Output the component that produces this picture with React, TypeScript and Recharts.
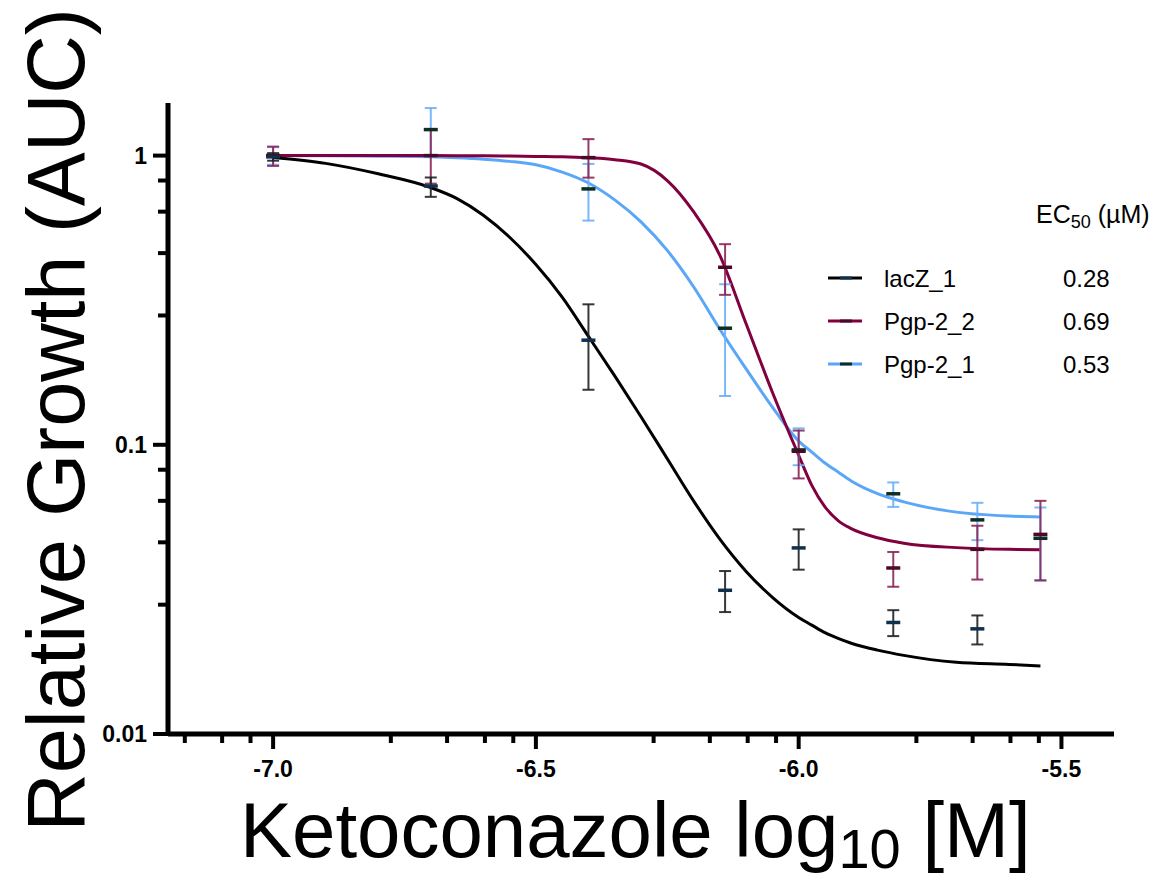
import React from 'react';
import { ComposedChart, Line, Scatter, ErrorBar, XAxis, YAxis, Label } from 'recharts';

// concentrations (log10 M) of the measured points
const DOSES = [-7.0, -6.7, -6.4, -6.14, -6.0, -5.82, -5.66, -5.54];

// lacZ_1 mean and error bar ends
const LACZ_MEAN = [0.99, 0.785, 0.23, 0.0314, 0.044, 0.0243, 0.0231, null];
const LACZ_LOW = [0.96, 0.72, 0.155, 0.0264, 0.037, 0.0218, 0.0204, null];
const LACZ_HIGH = [1.02, 0.84, 0.306, 0.0366, 0.051, 0.0268, 0.0257, null];

// Pgp-2_2
const PGP22_MEAN = [1.0, 1.0, 0.984, 0.411, 0.095, 0.0375, 0.0435, 0.049];
const PGP22_LOW = [0.921, 0.8, 0.839, 0.33, 0.0765, 0.0323, 0.0342, 0.034];
const PGP22_HIGH = [1.074, 1.23, 1.14, 0.494, 0.112, 0.0426, 0.0525, 0.064];

// Pgp-2_1
const PGP21_MEAN = [1.0, 1.23, 0.767, 0.253, 0.096, 0.0677, 0.055, 0.0475];
const PGP21_LOW = [0.93, 1.0, 0.596, 0.1475, 0.085, 0.061, 0.0468, 0.0339];
const PGP21_HIGH = [1.07, 1.46, 0.936, 0.359, 0.114, 0.0741, 0.063, 0.0607];

// fitted curves
const CURVE_X = [-7.0, -6.9, -6.8, -6.7, -6.65, -6.6, -6.55, -6.5, -6.45, -6.4, -6.35, -6.3, -6.25, -6.2, -6.15, -6.1, -6.05, -6.0, -5.975, -5.95, -5.925, -5.9, -5.85, -5.8, -5.7, -5.6, -5.54];
const LACZ_FIT = [0.985, 0.94, 0.865, 0.775, 0.71, 0.622, 0.522, 0.42, 0.324, 0.237, 0.173, 0.125, 0.0895, 0.064, 0.0472, 0.0365, 0.0297, 0.0253, 0.0238, 0.0224, 0.0214, 0.0206, 0.0195, 0.0187, 0.0177, 0.0174, 0.0172];
const PGP22_FIT = [1.0, 1.0, 1.0, 1.0, 0.999, 0.998, 0.996, 0.993, 0.99, 0.982, 0.968, 0.935, 0.82, 0.64, 0.452, 0.262, 0.152, 0.092, 0.0724, 0.061, 0.0547, 0.0513, 0.0477, 0.0457, 0.0441, 0.0435, 0.0434];
const PGP21_FIT = [1.0, 0.998, 0.995, 0.99, 0.983, 0.972, 0.955, 0.929, 0.877, 0.804, 0.703, 0.59, 0.47, 0.352, 0.251, 0.183, 0.135, 0.103, 0.0944, 0.0865, 0.0805, 0.075, 0.0678, 0.0635, 0.0585, 0.0567, 0.0563];

// axes
const X_MAJOR = [-7, -6.5, -6, -5.5];
const X_LABELS = ['-7.0', '-6.5', '-6.0', '-5.5'];
const X_MINOR = [-7.168, -7.097, -7.043, -6.776, -6.669, -6.597, -6.543, -6.276, -6.169, -6.097, -6.043, -5.776, -5.669, -5.597, -5.543];
const Y_MAJOR = [0.01, 0.1, 1];
const Y_LABELS = ['0.01', '0.1', '1'];
const Y_MINOR = [0.028, 0.046, 0.064, 0.082, 0.28, 0.46, 0.64, 0.82];

const NAMES = ['lacZ_1', 'Pgp-2_2', 'Pgp-2_1'];
const EC50 = ['0.28', '0.69', '0.53'];

const LINE_COLORS = ['#000000', '#800040', '#5ba7f7'];
const BAR_COLORS = ['#222222', '#8c2659', '#6cb0fb'];
const DASH_COLORS = ['#10304c', '#4a0a26', '#0f2e22'];

const FONT = '"Liberation Sans", Arial, sans-serif';

const toPoints = (mean: (number | null)[], low: (number | null)[], high: (number | null)[]) =>
  DOSES.map((x, i) => {
    const m = mean[i];
    if (m == null) return null;
    return { x, y: m, err: [m - (low[i] as number), (high[i] as number) - m] };
  }).filter(Boolean) as any[];

const toCurve = (fit: number[]) => CURVE_X.map((x, i) => ({ x, y: fit[i] }));

const points = [
  toPoints(LACZ_MEAN, LACZ_LOW, LACZ_HIGH),
  toPoints(PGP22_MEAN, PGP22_LOW, PGP22_HIGH),
  toPoints(PGP21_MEAN, PGP21_LOW, PGP21_HIGH),
];
const curves = [toCurve(LACZ_FIT), toCurve(PGP22_FIT), toCurve(PGP21_FIT)];

const XTick = (props: any) => {
  const { x, y, payload } = props;
  const idx = X_MAJOR.indexOf(payload.value);
  const major = idx >= 0;
  return (
    <g>
      <line x1={x} x2={x} y1={y} y2={y + (major ? 15 : 9)} stroke="#000" strokeWidth={4} />
      {major && (
        <text x={x} y={y + 43} textAnchor="middle" fontFamily={FONT} fontWeight="bold" fontSize={23} fill="#000">
          {X_LABELS[idx]}
        </text>
      )}
    </g>
  );
};

const YTick = (props: any) => {
  const { x, y, payload } = props;
  const idx = Y_MAJOR.indexOf(payload.value);
  const major = idx >= 0;
  return (
    <g>
      <line x1={x} x2={x - (major ? 15 : 10)} y1={y} y2={y} stroke="#000" strokeWidth={4} />
      {major && (
        <text x={x - 21} y={y + 8} textAnchor="end" fontFamily={FONT} fontWeight="bold" fontSize={23} fill="#000">
          {Y_LABELS[idx]}
        </text>
      )}
    </g>
  );
};

const makeDash = (color: string) => (props: any) => {
  const { cx, cy } = props;
  return <line x1={cx - 7} x2={cx + 7} y1={cy} y2={cy} stroke={color} strokeWidth={3.5} />;
};

const dashes = DASH_COLORS.map(makeDash);

// draw order: blue, red, black
const ORDER = [2, 1, 0];

export default function App() {
  return (
    <div style={{ position: 'absolute', left: 0, top: 0, width: 1164, height: 880, background: '#fff' }}>
      <ComposedChart width={1164} height={880} margin={{ top: 103, right: 50, bottom: 106, left: 108 }}>
        <XAxis
          type="number"
          dataKey="x"
          domain={[-7.2, -5.4]}
          allowDataOverflow
          ticks={[...X_MINOR, ...X_MAJOR].sort((a, b) => a - b)}
          interval={0}
          tick={(p: any) => <XTick {...p} />}
          tickLine={false}
          tickSize={0}
          tickMargin={0}
          height={40}
          axisLine={{ stroke: '#000', strokeWidth: 5 }}
        >
          <Label
            content={() => (
              <text x={240} y={857} fontFamily={FONT} fontSize={78} fill="#000">
                Ketoconazole log
                <tspan fontSize={56} dy={11}>10</tspan>
                <tspan dy={-11}> [M]</tspan>
              </text>
            )}
          />
        </XAxis>
        <YAxis
          type="number"
          dataKey="y"
          scale="log"
          domain={[0.01, 1.52]}
          allowDataOverflow
          ticks={[...Y_MINOR, ...Y_MAJOR].sort((a, b) => a - b)}
          interval={0}
          tick={(p: any) => <YTick {...p} />}
          tickLine={false}
          tickSize={0}
          tickMargin={0}
          width={60}
          axisLine={{ stroke: '#000', strokeWidth: 5 }}
        >
          <Label
            content={() => (
              <text
                x={84}
                y={420}
                transform="rotate(-90 84 420)"
                textAnchor="middle"
                fontFamily={FONT}
                fontSize={81}
                fill="#000"
              >
                Relative Growth (AUC)
              </text>
            )}
          />
        </YAxis>

        {ORDER.map((s) => (
          <Line
            key={`fit-${s}`}
            data={curves[s]}
            dataKey="y"
            type="monotone"
            stroke={LINE_COLORS[s]}
            strokeWidth={3}
            dot={false}
            activeDot={false}
            isAnimationActive={false}
          />
        ))}
        {ORDER.map((s) => (
          <Scatter
            key={`pts-${s}`}
            data={points[s]}
            dataKey="y"
            shape={dashes[s]}
            isAnimationActive={false}
          >
            <ErrorBar dataKey="err" direction="y" width={6} stroke={BAR_COLORS[s]} strokeWidth={2} strokeOpacity={0.9} />
          </Scatter>
        ))}
      </ComposedChart>

      <svg width={1164} height={880} style={{ position: 'absolute', left: 0, top: 0, pointerEvents: 'none' }}>
        <text x={1036} y={223} fontFamily={FONT} fontSize={25} fill="#000">
          EC
          <tspan fontSize={18} dy={5}>50</tspan>
          <tspan dy={-5}> (µM)</tspan>
        </text>
        {NAMES.map((name, i) => {
          const ly = 278 + i * 43;
          return (
            <g key={name}>
              <line x1={828} x2={862} y1={ly} y2={ly} stroke={LINE_COLORS[i]} strokeWidth={3} />
              <line x1={840} x2={852} y1={ly} y2={ly} stroke={DASH_COLORS[i]} strokeWidth={3} />
              <text x={884} y={ly + 9} fontFamily={FONT} fontSize={24} fill="#000">{name}</text>
              <text x={1063} y={ly + 9} fontFamily={FONT} fontSize={24} fill="#000">{EC50[i]}</text>
            </g>
          );
        })}
      </svg>
    </div>
  );
}
